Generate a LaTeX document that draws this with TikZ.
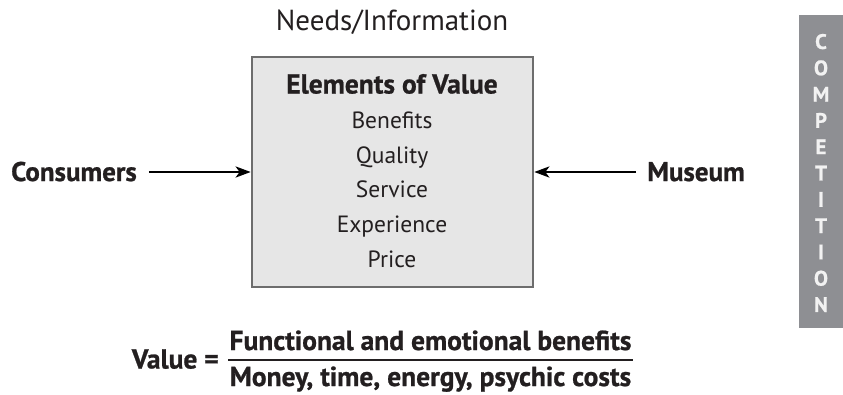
\documentclass[tikz,border=0pt]{standalone}
\usepackage{fontspec}
\setmainfont{PT Sans}[BoldFeatures={FakeBold=0.8}]
\usetikzlibrary{arrows.meta}
\definecolor{inkdark}{HTML}{231F20}
\definecolor{boxfill}{HTML}{E6E6E6}
\definecolor{boxedge}{HTML}{6D6D6D}
\definecolor{barfill}{HTML}{8E8F93}
\definecolor{barletter}{HTML}{F2F2F2}
\tikzset{
  heading/.style={text=inkdark, font=\fontsize{29}{34}\selectfont, inner sep=0pt, anchor=base},
  element/.style={text=inkdark, font=\fontsize{23.5}{28}\selectfont, inner sep=0pt, anchor=base},
  party/.style={text=inkdark, font=\fontsize{27}{32}\selectfont\bfseries, inner sep=0pt},
  flow/.style={line width=2.8pt, draw=black, -{Stealth[length=15pt,width=11pt,inset=4pt]}},
  formula/.style={text=inkdark, font=\fontsize{27.5}{32}\selectfont\bfseries, inner sep=0pt},
}
\begin{document}
\begin{tikzpicture}[x=1pt,y=-1pt]
\useasboundingbox[fill=white] (0,0) rectangle (843,394);

% title over the value box
\node[heading] (needs) at (392,30) {Needs/Information};

% central box listing the elements of value
\node[draw=boxedge, fill=boxfill, line width=2.6pt, minimum width=281pt,
      minimum height=230pt, inner sep=0pt] (value) at (392.5,172) {};
\node[element, font=\fontsize{27.5}{32}\selectfont\bfseries] (elem) at (392,93.5) {Elements of Value};
\node[element] (benefits) at (392,128) {Benefits};
\node[element] (quality) at (392,163) {Quality};
\node[element] (service) at (392,197.5) {Service};
\node[element] (experience) at (392,232) {Experience};
\node[element] (price) at (392,267) {Price};

% the two parties meeting in the box
\node[party, anchor=base west] (consumers) at (11,181) {Consumers};
\node[party, anchor=base east] (museum) at (745,181) {Museum};
\coordinate (cstart) at ([xshift=12pt]consumers.east |- value.west);
\coordinate (mstart) at ([xshift=-11pt]museum.west |- value.east);
\draw[flow] (cstart) -- (value.west);
\draw[flow] (mstart) -- (value.east);

% competition bar at the right edge
\node[fill=barfill, minimum width=44pt, minimum height=313pt, inner sep=0pt]
  (bar) at (821,171.5) {};
\node[text=barletter, font=\fontsize{21}{26.3}\selectfont\bfseries, align=center,
      inner sep=0pt] (comp) at (821,173)
  {C\\O\\M\\P\\E\\T\\I\\T\\I\\O\\N};

% value formula
\node[formula, anchor=base east] (valeq) at (219,368.5) {Value =};
\node[formula, anchor=base] (num) at (430.5,350) {Functional and emotional benefits};
\node[formula, anchor=base] (den) at (430.5,386) {Money, time, energy, psychic costs};
\draw[line width=2.2pt, draw=inkdark] (228,360) -- (633,360);
\end{tikzpicture}
\end{document}
